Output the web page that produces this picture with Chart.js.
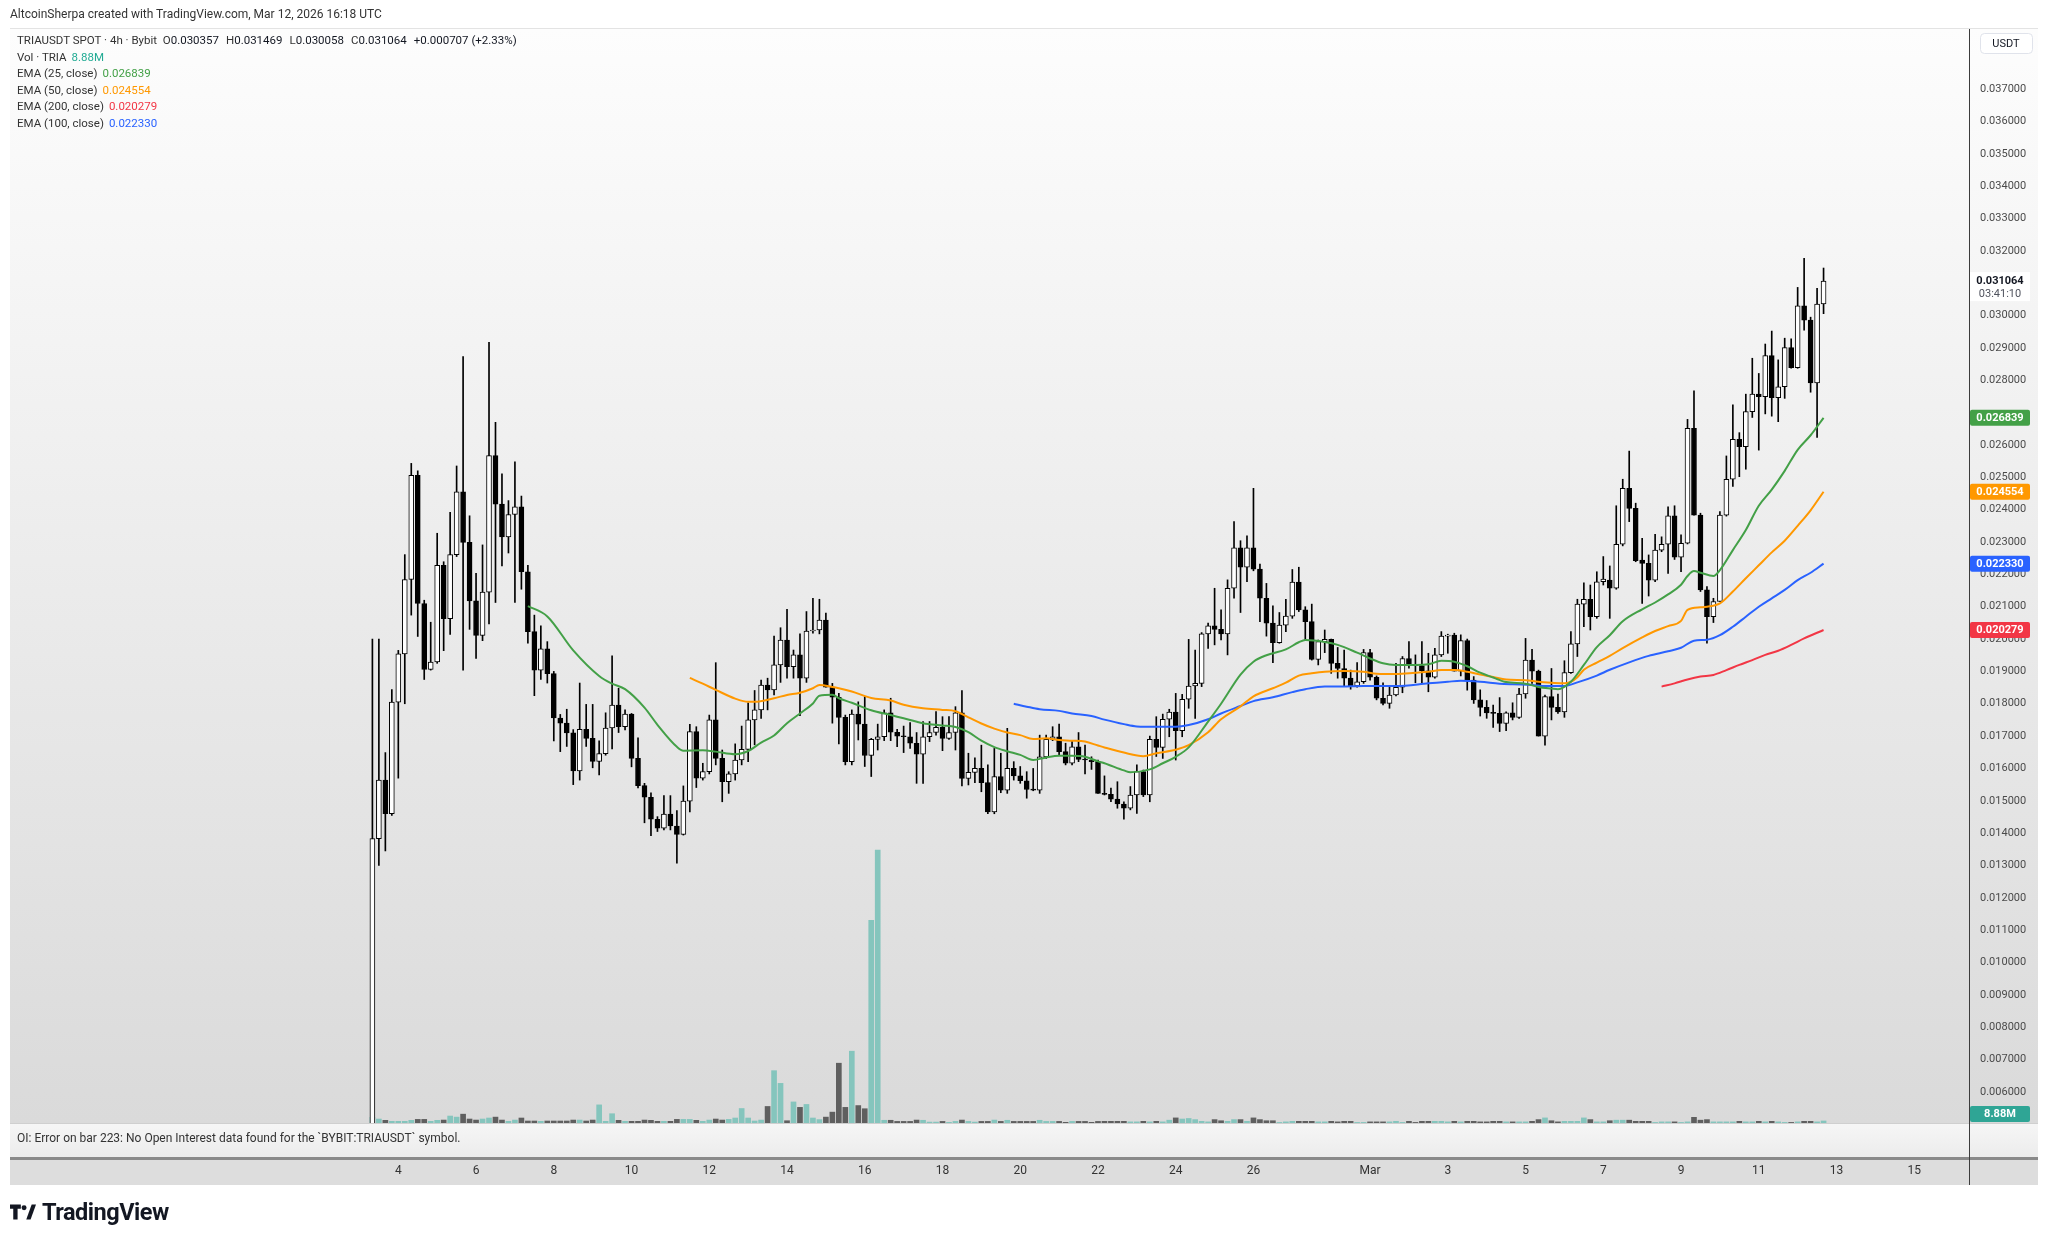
<!DOCTYPE html>
<html>
<head>
<meta charset="utf-8">
<script src="https://cdn.jsdelivr.net/npm/chart.js@4.4.1/dist/chart.umd.min.js"></script>
<style>
  html, body { margin: 0; padding: 0; background: #fff; }
  body { width: 2048px; height: 1244px; position: relative; overflow: hidden; font-family: Roboto, "Liberation Sans", sans-serif; color: #131722; }
  #chart { position: absolute; left: 0; top: 0; }
  #header { position: absolute; left: 10px; top: 7px; font-size: 12px; color: #333; white-space: nowrap; }
  #legend { position: absolute; left: 17px; top: 32px; font-size: 11.5px; line-height: 16.5px; color: #333; white-space: nowrap; }
  #legend .n { color: #131722; margin-right: 7px; }
  #legend .val { margin-left: 5px; }
  #oi { position: absolute; left: 17px; top: 1131px; font-size: 12px; color: #333; white-space: nowrap; }
  #logo { position: absolute; left: 10px; top: 1198px; display: flex; align-items: center; }
  #logo span { font-size: 23.5px; font-weight: 700; letter-spacing: -0.5px; color: #131722; margin-left: 6px; }
</style>
</head>
<body>
<canvas id="chart" width="2048" height="1244"></canvas>
<div id="header">AltcoinSherpa created with TradingView.com, Mar 12, 2026 16:18 UTC</div>
<div id="legend"></div>
<div id="oi">OI: Error on bar 223: No Open Interest data found for the `BYBIT:TRIAUSDT` symbol.</div>
<div id="logo">
  <svg width="26" height="18" viewBox="0 0 24 16"><path d="M0 1h10v4H7v10H3V5H0z" fill="#131722"/><circle cx="13" cy="4" r="2.3" fill="#131722"/><path d="M15 15l5-14h4l-5 14z" fill="#131722"/></svg>
  <span>TradingView</span>
</div>
<script>
// TRIAUSDT 4h candles, Feb 3 08:00 -> Mar 12 16:00 (bar index 0..224)
const opens = [
  0.0035, 0.01383, 0.01564, 0.01460, 0.01805, 0.01954, 0.02184, 0.02506, 0.02110, 0.01906,
  0.01929, 0.02228, 0.02063, 0.02261, 0.02455, 0.02299, 0.02118, 0.02011, 0.02145, 0.02567,
  0.02417, 0.02316, 0.02385, 0.02409, 0.02208, 0.02023, 0.01904, 0.01970, 0.01893, 0.01756,
  0.01740, 0.01710, 0.01592, 0.01721, 0.01693, 0.01622, 0.01646, 0.01725, 0.01796, 0.01729,
  0.01768, 0.01631, 0.01547, 0.01511, 0.01443, 0.01415, 0.01459, 0.01422, 0.01396, 0.01499,
  0.01714, 0.01570, 0.01590, 0.01750, 0.01631, 0.01559, 0.01583, 0.01626, 0.01659, 0.01750,
  0.01781, 0.01858, 0.01843, 0.01920, 0.01997, 0.01915, 0.01951, 0.01879, 0.02025, 0.02028,
  0.02059, 0.01851, 0.01820, 0.01758, 0.01621, 0.01768, 0.01737, 0.01640, 0.01690, 0.01698,
  0.01772, 0.01712, 0.01700, 0.01698, 0.01678, 0.01644, 0.01698, 0.01711, 0.01727, 0.01693,
  0.01711, 0.01772, 0.01569, 0.01588, 0.01600, 0.01556, 0.01466, 0.01575, 0.01533, 0.01600,
  0.01577, 0.01562, 0.01535, 0.01533, 0.01636, 0.01690, 0.01698, 0.01652, 0.01616, 0.01667,
  0.01628, 0.01626, 0.01621, 0.01523, 0.01520, 0.01505, 0.01490, 0.01477, 0.01518, 0.01590,
  0.01518, 0.01690, 0.01665, 0.01752, 0.01774, 0.01717, 0.01814, 0.01855, 0.01863, 0.02016,
  0.02041, 0.02030, 0.02016, 0.02157, 0.02282, 0.02222, 0.02282, 0.02216, 0.02126, 0.02049,
  0.01989, 0.02043, 0.02071, 0.02176, 0.02090, 0.02054, 0.01937, 0.01992, 0.01999, 0.01925,
  0.01909, 0.01879, 0.01855, 0.01868, 0.01958, 0.01882, 0.01817, 0.01801, 0.01827, 0.01851,
  0.01940, 0.01920, 0.01918, 0.01902, 0.01882, 0.01951, 0.02009, 0.02012, 0.01901, 0.01995,
  0.01873, 0.01812, 0.01789, 0.01772, 0.01770, 0.01739, 0.01772, 0.01758, 0.01830, 0.01935,
  0.01901, 0.01700, 0.01822, 0.01789, 0.01775, 0.01896, 0.01985, 0.02108, 0.02123, 0.02069,
  0.02177, 0.02182, 0.02157, 0.02293, 0.02466, 0.02404, 0.02244, 0.02234, 0.02182, 0.02275,
  0.02293, 0.02381, 0.02253, 0.02296, 0.02651, 0.02383, 0.02152, 0.02069, 0.02116, 0.02383,
  0.02494, 0.02617, 0.02595, 0.02703, 0.02757, 0.02749, 0.02876, 0.02746, 0.02780, 0.02901,
  0.02839, 0.03030, 0.02986, 0.02792, 0.030357
];
const highs = [
  0.0200, 0.0200, 0.01649, 0.01844, 0.01965, 0.02261, 0.02543, 0.02520, 0.02120, 0.02052,
  0.02327, 0.02239, 0.02392, 0.02535, 0.02873, 0.02381, 0.02203, 0.02291, 0.02917, 0.02670,
  0.02511, 0.02428, 0.02548, 0.02442, 0.02228, 0.02074, 0.02041, 0.01992, 0.01900, 0.01767,
  0.01783, 0.01720, 0.01864, 0.01798, 0.01798, 0.01685, 0.01772, 0.01948, 0.01848, 0.01781,
  0.01770, 0.01695, 0.01554, 0.01525, 0.01451, 0.01516, 0.01516, 0.01470, 0.01546, 0.01736,
  0.01729, 0.01616, 0.01765, 0.01927, 0.01657, 0.01590, 0.01676, 0.01731, 0.01803, 0.01841,
  0.01873, 0.01879, 0.02009, 0.02035, 0.02092, 0.01966, 0.02016, 0.02085, 0.02126, 0.02123,
  0.02080, 0.01863, 0.01832, 0.01765, 0.01781, 0.01806, 0.01822, 0.01693, 0.01737, 0.01781,
  0.01817, 0.01721, 0.01731, 0.01742, 0.01711, 0.01745, 0.01745, 0.01776, 0.01760, 0.01760,
  0.01791, 0.01841, 0.01647, 0.01633, 0.01672, 0.01611, 0.01662, 0.01647, 0.01724, 0.01621,
  0.01606, 0.01590, 0.01600, 0.01703, 0.01703, 0.01729, 0.01737, 0.01678, 0.01686, 0.01711,
  0.01672, 0.01636, 0.01626, 0.01577, 0.01539, 0.01559, 0.01497, 0.01544, 0.01611, 0.01595,
  0.01700, 0.01760, 0.01768, 0.01783, 0.01832, 0.01829, 0.01999, 0.01966, 0.02020, 0.02049,
  0.02157, 0.02090, 0.02183, 0.02363, 0.02304, 0.02319, 0.02466, 0.02232, 0.02172, 0.02103,
  0.02082, 0.02123, 0.02215, 0.02222, 0.02100, 0.02108, 0.01997, 0.02028, 0.02000, 0.01974,
  0.01966, 0.01904, 0.01927, 0.01968, 0.01968, 0.01886, 0.01865, 0.01855, 0.01925, 0.01946,
  0.01992, 0.01951, 0.01992, 0.01956, 0.01971, 0.02023, 0.02015, 0.02018, 0.02013, 0.02000,
  0.01884, 0.01843, 0.01810, 0.01796, 0.01819, 0.01775, 0.01803, 0.01848, 0.02002, 0.01968,
  0.01904, 0.01827, 0.01909, 0.01830, 0.01933, 0.02023, 0.02123, 0.02174, 0.02167, 0.02208,
  0.02255, 0.02226, 0.02412, 0.02494, 0.02581, 0.02420, 0.02311, 0.02260, 0.02324, 0.02316,
  0.02409, 0.02412, 0.02322, 0.02679, 0.02767, 0.02389, 0.02162, 0.02126, 0.02394, 0.02566,
  0.02724, 0.02638, 0.02757, 0.02868, 0.02821, 0.02912, 0.02952, 0.02863, 0.02930, 0.02928,
  0.03087, 0.03177, 0.02995, 0.03084, 0.031469
];
const lows = [
  0.0030, 0.0130, 0.01345, 0.01455, 0.01570, 0.01800, 0.02074, 0.02008, 0.01875, 0.01904,
  0.01925, 0.01964, 0.02014, 0.02255, 0.01904, 0.02030, 0.01940, 0.01995, 0.02047, 0.02113,
  0.02226, 0.02266, 0.02113, 0.02154, 0.01987, 0.01825, 0.01875, 0.01864, 0.01685, 0.01652,
  0.01668, 0.01550, 0.01564, 0.01668, 0.01602, 0.01580, 0.01641, 0.01660, 0.01711, 0.01719,
  0.01605, 0.01540, 0.01432, 0.01392, 0.01405, 0.01410, 0.01410, 0.01307, 0.01394, 0.01466,
  0.01541, 0.01564, 0.01583, 0.01611, 0.01497, 0.01523, 0.01564, 0.01611, 0.01621, 0.01673,
  0.01755, 0.01781, 0.01827, 0.01866, 0.01879, 0.01879, 0.01763, 0.01866, 0.02018, 0.02016,
  0.01851, 0.01740, 0.01676, 0.01611, 0.01611, 0.01688, 0.01606, 0.01575, 0.01657, 0.01686,
  0.01686, 0.01667, 0.01649, 0.01662, 0.01554, 0.01554, 0.01683, 0.01703, 0.01655, 0.01690,
  0.01657, 0.01546, 0.01549, 0.01556, 0.01528, 0.01460, 0.01460, 0.01525, 0.01523, 0.01564,
  0.01554, 0.01508, 0.01531, 0.01523, 0.01631, 0.01686, 0.01642, 0.01611, 0.01611, 0.01621,
  0.01583, 0.01597, 0.01523, 0.01518, 0.01497, 0.01477, 0.01443, 0.01472, 0.01461, 0.01513,
  0.01497, 0.01637, 0.01631, 0.01698, 0.01626, 0.01698, 0.01786, 0.01755, 0.01853, 0.01971,
  0.01982, 0.01997, 0.01951, 0.02126, 0.02082, 0.02177, 0.02211, 0.02054, 0.02009, 0.01927,
  0.01987, 0.02023, 0.02064, 0.02085, 0.01997, 0.01935, 0.01920, 0.01958, 0.01894, 0.01879,
  0.01855, 0.01845, 0.01851, 0.01863, 0.01873, 0.01812, 0.01796, 0.01786, 0.01824, 0.01834,
  0.01910, 0.01865, 0.01863, 0.01837, 0.01879, 0.01946, 0.01956, 0.01901, 0.01886, 0.01842,
  0.01801, 0.01762, 0.01755, 0.01727, 0.01714, 0.01717, 0.01750, 0.01755, 0.01817, 0.01863,
  0.01700, 0.01672, 0.01750, 0.01770, 0.01758, 0.01894, 0.01946, 0.02038, 0.02028, 0.02064,
  0.02167, 0.02064, 0.02154, 0.02288, 0.02363, 0.02239, 0.02110, 0.02133, 0.02177, 0.02270,
  0.02203, 0.02246, 0.02208, 0.02294, 0.02383, 0.02147, 0.01987, 0.02051, 0.02116, 0.02380,
  0.02472, 0.02502, 0.02525, 0.02685, 0.02584, 0.02696, 0.02689, 0.02672, 0.02744, 0.02837,
  0.02837, 0.02955, 0.02763, 0.02623, 0.030058
];
const closes = [
  0.01383, 0.01564, 0.01460, 0.01805, 0.01954, 0.02184, 0.02506, 0.02110, 0.01906, 0.01929,
  0.02228, 0.02063, 0.02261, 0.02455, 0.02299, 0.02118, 0.02011, 0.02145, 0.02567, 0.02417,
  0.02316, 0.02385, 0.02409, 0.02208, 0.02023, 0.01904, 0.01970, 0.01893, 0.01756, 0.01740,
  0.01710, 0.01592, 0.01721, 0.01693, 0.01622, 0.01646, 0.01725, 0.01796, 0.01729, 0.01768,
  0.01631, 0.01547, 0.01511, 0.01443, 0.01415, 0.01459, 0.01422, 0.01396, 0.01499, 0.01714,
  0.01570, 0.01590, 0.01750, 0.01631, 0.01559, 0.01583, 0.01626, 0.01659, 0.01750, 0.01781,
  0.01858, 0.01843, 0.01920, 0.01997, 0.01915, 0.01951, 0.01879, 0.02025, 0.02028, 0.02059,
  0.01851, 0.01820, 0.01758, 0.01621, 0.01768, 0.01737, 0.01640, 0.01690, 0.01698, 0.01772,
  0.01712, 0.01700, 0.01698, 0.01678, 0.01644, 0.01698, 0.01711, 0.01727, 0.01693, 0.01711,
  0.01772, 0.01569, 0.01588, 0.01600, 0.01556, 0.01466, 0.01575, 0.01533, 0.01600, 0.01577,
  0.01562, 0.01535, 0.01533, 0.01636, 0.01690, 0.01698, 0.01652, 0.01616, 0.01667, 0.01628,
  0.01626, 0.01621, 0.01523, 0.01520, 0.01505, 0.01490, 0.01477, 0.01518, 0.01590, 0.01518,
  0.01690, 0.01665, 0.01752, 0.01774, 0.01717, 0.01814, 0.01855, 0.01863, 0.02016, 0.02041,
  0.02030, 0.02016, 0.02157, 0.02282, 0.02222, 0.02282, 0.02216, 0.02126, 0.02049, 0.01989,
  0.02043, 0.02071, 0.02176, 0.02090, 0.02054, 0.01937, 0.01992, 0.01999, 0.01925, 0.01909,
  0.01879, 0.01855, 0.01868, 0.01958, 0.01882, 0.01817, 0.01801, 0.01827, 0.01851, 0.01940,
  0.01920, 0.01918, 0.01902, 0.01882, 0.01951, 0.02009, 0.02012, 0.01901, 0.01995, 0.01873,
  0.01812, 0.01789, 0.01772, 0.01770, 0.01739, 0.01772, 0.01758, 0.01830, 0.01935, 0.01901,
  0.01700, 0.01822, 0.01789, 0.01775, 0.01896, 0.01985, 0.02108, 0.02123, 0.02069, 0.02177,
  0.02185, 0.02157, 0.02293, 0.02466, 0.02404, 0.02242, 0.02234, 0.02182, 0.02275, 0.02293,
  0.02381, 0.02253, 0.02296, 0.02651, 0.02383, 0.02152, 0.02069, 0.02116, 0.02383, 0.02494,
  0.02617, 0.02595, 0.02703, 0.02757, 0.02749, 0.02876, 0.02746, 0.02780, 0.02901, 0.02839,
  0.03030, 0.02986, 0.02792, 0.030357, 0.031064
];
// volume in millions of TRIA
const volumes = [
  25, 17.5, 11.7, 7.3, 7.3, 7.3, 11.7, 16, 16, 7.3,
  11.7, 13, 30.7, 26, 39, 17.5, 13, 17.5, 22, 26,
  13, 7.3, 13, 22, 8.8, 8.8, 7.3, 8.8, 8.8, 8.8,
  8.8, 13, 13, 8.8, 13, 80, 7.3, 41, 11.7, 7.3,
  7.3, 7.3, 13, 11.7, 7.3, 7.3, 7.3, 16, 16, 16,
  11.7, 7.3, 13, 17.5, 13, 16, 22, 64, 22, 8.8,
  13, 73, 231, 175, 10, 93, 69, 82, 22, 15,
  26, 48, 264, 69, 317, 77, 63, 895, 1205, 12,
  12, 7, 7, 7, 13, 12, 4, 4, 7, 3,
  7, 13, 7, 4, 7, 7, 13, 7, 12, 7,
  7, 7, 7, 12, 7, 7, 7, 3, 7, 7,
  7, 3, 7, 7.5, 7.5, 7.5, 7.5, 5, 5, 7.5,
  5, 7.5, 5, 12.5, 22.5, 17.5, 20, 15, 7.5, 5,
  15, 10, 7.5, 15, 15, 7.5, 22.5, 15, 10, 10,
  2.5, 5, 7.5, 7.5, 7.5, 7.5, 5, 5, 7.5, 5,
  7.5, 7.5, 2.5, 2.5, 5, 5, 5, 5, 7.5, 2.5,
  7.5, 2.5, 7.5, 7.5, 7.5, 7.5, 5, 7.5, 5, 7.5,
  7.5, 5, 5, 7.5, 7.5, 5, 5, 5, 5, 7.5,
  15, 22.5, 10, 5, 7.5, 7.5, 7.5, 22.5, 15, 5,
  5, 10, 12.5, 12.5, 12.5, 7.5, 7.5, 7.5, 2.5, 5,
  5, 5, 2.5, 5, 25, 12.5, 15, 5, 5, 5,
  5, 7.5, 5, 5, 7.5, 5, 7.5, 5, 2.5, 2.5,
  5, 7.5, 7.5, 5, 8.88
];

// EMA lines: bar index + value
const ema25Idx = [24, 27, 31, 35, 37, 39, 42, 44, 47, 48, 51, 53, 56, 58, 60, 62, 64, 66, 68, 69, 71, 72, 74, 77, 80, 82, 85, 88, 90, 92, 94, 96, 98, 100, 102, 104, 106, 108, 110, 112, 113, 116, 117, 120, 122, 124, 126, 129, 131, 134, 136, 138, 141, 143, 144, 147, 149, 152, 154, 156, 158, 161, 163, 165, 167, 169, 171, 173, 175, 178, 180, 182, 183, 185, 187, 189, 191, 193, 196, 198, 200, 202, 203, 204, 205, 207, 208, 210, 212, 214, 216, 218, 220, 222, 224];
const ema25Val = [0.02102, 0.02070, 0.01965, 0.01886, 0.01862, 0.01845, 0.01788, 0.01735, 0.01667, 0.01655, 0.01656, 0.01652, 0.01644, 0.01654, 0.01680, 0.01702, 0.01740, 0.01770, 0.01801, 0.01825, 0.01828, 0.01817, 0.01803, 0.01780, 0.01765, 0.01755, 0.01740, 0.01733, 0.01728, 0.01712, 0.01686, 0.01666, 0.01653, 0.01642, 0.01626, 0.01634, 0.01639, 0.01639, 0.01636, 0.01622, 0.01616, 0.01594, 0.01588, 0.01597, 0.01616, 0.01636, 0.01665, 0.01745, 0.01800, 0.01890, 0.01930, 0.01950, 0.01968, 0.01990, 0.01997, 0.01991, 0.01982, 0.01958, 0.01940, 0.01925, 0.01920, 0.01920, 0.01922, 0.01933, 0.01930, 0.01916, 0.01896, 0.01881, 0.01867, 0.01862, 0.01852, 0.01847, 0.01845, 0.01868, 0.01920, 0.01975, 0.02012, 0.02055, 0.02092, 0.02113, 0.02138, 0.02168, 0.02195, 0.02210, 0.02205, 0.02195, 0.02213, 0.02275, 0.02337, 0.02412, 0.02462, 0.02520, 0.02585, 0.02630, 0.026839];
const ema50Idx = [49, 51, 53, 56, 58, 59, 62, 64, 66, 68, 69, 71, 72, 74, 77, 80, 82, 85, 88, 90, 92, 94, 96, 98, 100, 102, 104, 106, 108, 110, 112, 113, 116, 119, 121, 124, 126, 129, 131, 134, 136, 139, 141, 143, 145, 147, 150, 153, 155, 158, 161, 163, 165, 167, 169, 171, 173, 175, 178, 180, 182, 184, 185, 186, 187, 189, 191, 193, 196, 198, 200, 202, 203, 205, 206, 208, 210, 212, 214, 216, 218, 220, 222, 224];
const ema50Val = [0.01880, 0.01862, 0.01843, 0.01816, 0.01806, 0.01806, 0.01817, 0.01827, 0.01834, 0.01848, 0.01858, 0.01852, 0.01848, 0.01838, 0.01818, 0.01810, 0.01797, 0.01786, 0.01781, 0.01777, 0.01758, 0.01739, 0.01723, 0.01711, 0.01703, 0.01691, 0.01693, 0.01688, 0.01686, 0.01683, 0.01671, 0.01665, 0.01649, 0.01638, 0.01647, 0.01658, 0.01672, 0.01712, 0.01752, 0.01792, 0.01823, 0.01848, 0.01865, 0.01887, 0.01894, 0.01899, 0.01901, 0.01899, 0.01893, 0.01892, 0.01896, 0.01899, 0.01904, 0.01904, 0.01899, 0.01890, 0.01883, 0.01875, 0.01873, 0.01868, 0.01865, 0.01863, 0.01868, 0.01882, 0.01905, 0.01927, 0.01948, 0.01972, 0.02005, 0.02025, 0.02040, 0.02056, 0.02090, 0.02098, 0.02100, 0.02110, 0.02147, 0.02188, 0.02228, 0.02268, 0.02304, 0.02350, 0.02398, 0.024554];
const ema100Idx = [99, 101, 103, 106, 108, 111, 113, 116, 118, 121, 124, 126, 129, 131, 134, 136, 139, 142, 144, 147, 149, 153, 158, 163, 166, 168, 171, 174, 176, 179, 181, 184, 186, 189, 191, 194, 197, 200, 202, 204, 206, 208, 210, 212, 214, 216, 218, 220, 222, 224];
const ema100Val = [0.01800, 0.01791, 0.01783, 0.01778, 0.01770, 0.01762, 0.01751, 0.01737, 0.01730, 0.01729, 0.01729, 0.01734, 0.01752, 0.01770, 0.01793, 0.01808, 0.01820, 0.01836, 0.01845, 0.01853, 0.01853, 0.01855, 0.01855, 0.01863, 0.01868, 0.01871, 0.01868, 0.01862, 0.01860, 0.01858, 0.01855, 0.01855, 0.01866, 0.01887, 0.01905, 0.01928, 0.01948, 0.01962, 0.01973, 0.01995, 0.01998, 0.02012, 0.02038, 0.02069, 0.02100, 0.02126, 0.02152, 0.02182, 0.02205, 0.02233];
const ema200Idx = [199, 201, 203, 205, 207, 209, 211, 213, 215, 217, 219, 221, 224];
const ema200Val = [0.01853, 0.01863, 0.01875, 0.01884, 0.01889, 0.01904, 0.01920, 0.01935, 0.01951, 0.01964, 0.01982, 0.02002, 0.020279];

// axis ticks: bar index of each day label (Feb 4 00:00 = bar 4, 6 bars per day)
const dayTickIdx = [4, 16, 28, 40, 52, 64, 76, 88, 100, 112, 124, 136, 154, 166, 178, 190, 202, 214, 226, 238];
const dayTickLabels = ['4', '6', '8', '10', '12', '14', '16', '18', '20', '22', '24', '26', 'Mar', '3', '5', '7', '9', '11', '13', '15'];
const priceTicks = [0.006, 0.007, 0.008, 0.009, 0.010, 0.011, 0.012, 0.013, 0.014, 0.015, 0.016, 0.017, 0.018, 0.019, 0.020, 0.021, 0.022, 0.023, 0.024, 0.025, 0.026, 0.027, 0.028, 0.029, 0.030, 0.031, 0.032, 0.033, 0.034, 0.035, 0.036, 0.037];

const emaColors = { e25: '#43a047', e50: '#ff9800', e100: '#2962ff', e200: '#f23645' };
const volUp = '#85c5bd';
const volDown = '#5f5f5f';

const last = closes.length - 1;
const isUp = i => closes[i] >= opens[i];
const pts = (idx, vals) => idx.map((x, k) => ({ x: x, y: vals[k] }));
const fmt = v => v.toFixed(6);
const lastOf = a => a[a.length - 1];

// price labels sitting under a value badge are hidden, as on TradingView
const badgeValues = [closes[last], lastOf(ema25Val), lastOf(ema50Val), lastOf(ema100Val), lastOf(ema200Val)];
const hiddenTick = v => badgeValues.some(b => Math.abs(b - v) < 0.0002);

// legend text
const chg = closes[last] - closes[last - 1];
document.getElementById('legend').innerHTML =
  '<div>TRIAUSDT SPOT · 4h · Bybit&nbsp;&nbsp;O<span class="n">' + fmt(opens[last]) +
  '</span>H<span class="n">' + fmt(highs[last]) + '</span>L<span class="n">' + fmt(lows[last]) +
  '</span>C<span class="n">' + fmt(closes[last]) + '</span><span class="n">+' + fmt(chg) +
  ' (+' + (chg / closes[last - 1] * 100).toFixed(2) + '%)</span></div>' +
  '<div>Vol · TRIA<span class="val" style="color:#22ab94">' + volumes[last].toFixed(2) + 'M</span></div>' +
  '<div>EMA (25, close)<span class="val" style="color:' + emaColors.e25 + '">' + fmt(lastOf(ema25Val)) + '</span></div>' +
  '<div>EMA (50, close)<span class="val" style="color:' + emaColors.e50 + '">' + fmt(lastOf(ema50Val)) + '</span></div>' +
  '<div>EMA (200, close)<span class="val" style="color:' + emaColors.e200 + '">' + fmt(lastOf(ema200Val)) + '</span></div>' +
  '<div>EMA (100, close)<span class="val" style="color:' + emaColors.e100 + '">' + fmt(lastOf(ema100Val)) + '</span></div>';

function badge(c, y, bg, fg, text) {
  c.fillStyle = bg;
  c.beginPath();
  c.roundRect(1970, y - 8, 60, 16, 2);
  c.fill();
  c.fillStyle = fg;
  c.font = 'bold 11px Roboto';
  c.textAlign = 'center';
  c.textBaseline = 'middle';
  c.fillText(text, 2000, y + 0.5);
}

const paneBg = {
  id: 'paneBg',
  beforeDraw(chart) {
    const c = chart.ctx;
    c.save();
    c.fillStyle = '#ffffff';
    c.fillRect(0, 0, 2048, 1244);
    const g = c.createLinearGradient(0, 29, 0, 1123);
    g.addColorStop(0, '#fdfdfd');
    g.addColorStop(1, '#dadada');
    c.fillStyle = g;
    c.fillRect(10, 29, 2028, 1094);
    c.fillStyle = '#e3e3e3';
    c.fillRect(10, 28, 2028, 1);
    // OI pane
    const g2 = c.createLinearGradient(0, 1123, 0, 1157);
    g2.addColorStop(0, '#f6f6f6');
    g2.addColorStop(1, '#ececec');
    c.fillStyle = g2;
    c.fillRect(10, 1123, 2028, 34);
    c.fillStyle = '#cfcfcf';
    c.fillRect(10, 1123, 2028, 1);
    c.fillStyle = '#8a8a8a';
    c.fillRect(10, 1157, 2028, 3);
    // time axis strip
    c.fillStyle = '#dddddd';
    c.fillRect(10, 1160, 2028, 25);
    // price axis divider
    c.fillStyle = '#3c3c3c';
    c.fillRect(1969, 29, 1, 1156);
    c.restore();
  },
  afterDraw(chart) {
    const c = chart.ctx;
    const y = chart.scales.y;
    c.save();
    // USDT button
    c.fillStyle = '#ffffff';
    c.strokeStyle = '#e0e3eb';
    c.beginPath();
    c.roundRect(1980.5, 33.5, 52, 20, 4);
    c.fill();
    c.stroke();
    c.fillStyle = '#131722';
    c.font = '11px Roboto';
    c.textAlign = 'center';
    c.textBaseline = 'middle';
    c.fillText('USDT', 2006, 44);
    // last price with countdown
    const py = y.getPixelForValue(closes[last]);
    c.fillStyle = '#ffffff';
    c.fillRect(1970, py - 9, 60, 29);
    c.fillStyle = '#131722';
    c.font = 'bold 11px Roboto';
    c.fillText(fmt(closes[last]), 2000, py + 0.5);
    c.fillStyle = '#50535e';
    c.font = '11px Roboto';
    c.fillText('03:41:10', 2000, py + 13);
    // EMA badges
    badge(c, y.getPixelForValue(lastOf(ema25Val)), emaColors.e25, '#fff', fmt(lastOf(ema25Val)));
    badge(c, y.getPixelForValue(lastOf(ema50Val)), emaColors.e50, '#fff', fmt(lastOf(ema50Val)));
    badge(c, y.getPixelForValue(lastOf(ema100Val)), emaColors.e100, '#fff', fmt(lastOf(ema100Val)));
    badge(c, y.getPixelForValue(lastOf(ema200Val)), emaColors.e200, '#fff', fmt(lastOf(ema200Val)));
    // volume badge
    badge(c, 1114, '#2fa595', '#fff', volumes[last].toFixed(2) + 'M');
    c.restore();
  }
};

const ctx = document.getElementById('chart');

new Chart(ctx, {
  type: 'bar',
  data: {
    datasets: [
      { type: 'line', label: 'EMA 25', data: pts(ema25Idx, ema25Val), borderColor: emaColors.e25, borderWidth: 2, pointRadius: 0, cubicInterpolationMode: 'monotone', yAxisID: 'y', order: 0 },
      { type: 'line', label: 'EMA 50', data: pts(ema50Idx, ema50Val), borderColor: emaColors.e50, borderWidth: 2, pointRadius: 0, cubicInterpolationMode: 'monotone', yAxisID: 'y', order: 0 },
      { type: 'line', label: 'EMA 200', data: pts(ema200Idx, ema200Val), borderColor: emaColors.e200, borderWidth: 2, pointRadius: 0, cubicInterpolationMode: 'monotone', yAxisID: 'y', order: 0 },
      { type: 'line', label: 'EMA 100', data: pts(ema100Idx, ema100Val), borderColor: emaColors.e100, borderWidth: 2, pointRadius: 0, cubicInterpolationMode: 'monotone', yAxisID: 'y', order: 0 },
      {
        label: 'body',
        data: opens.map((o, i) => ({ x: i, y: [o, closes[i]] })),
        backgroundColor: c => isUp(c.dataIndex) ? '#ffffff' : '#000000',
        borderColor: '#000000',
        borderWidth: 1,
        borderSkipped: false,
        barThickness: 5,
        minBarLength: 1,
        grouped: false,
        yAxisID: 'y',
        order: 1
      },
      {
        label: 'wick',
        data: lows.map((l, i) => ({ x: i, y: [l, highs[i]] })),
        backgroundColor: '#000000',
        barThickness: 1,
        grouped: false,
        yAxisID: 'y',
        order: 2
      },
      {
        label: 'volume',
        data: volumes.map((v, i) => ({ x: i, y: v })),
        backgroundColor: c => isUp(c.dataIndex) ? volUp : volDown,
        barThickness: 5,
        grouped: false,
        yAxisID: 'yv',
        order: 3
      }
    ]
  },
  options: {
    responsive: false,
    animation: false,
    layout: { padding: { left: 10, top: 29, right: 9, bottom: 59 } },
    plugins: { legend: { display: false }, tooltip: { enabled: false } },
    scales: {
      x: {
        type: 'linear',
        min: -55.94,
        max: 246.45,
        offset: false,
        grid: { display: false, drawTicks: false },
        border: { display: false },
        afterBuildTicks: s => { s.ticks = dayTickIdx.map(v => ({ value: v })); },
        afterFit: s => { s.height = 62; },
        ticks: {
          autoSkip: false,
          maxRotation: 0,
          padding: 41,
          color: '#333333',
          font: { family: 'Roboto', size: 12 },
          callback: (v, k) => dayTickLabels[k]
        }
      },
      y: {
        position: 'right',
        min: 0.00504,
        max: 0.038858,
        grid: { display: false, drawTicks: false },
        border: { display: false },
        afterBuildTicks: s => { s.ticks = priceTicks.map(v => ({ value: v })); },
        afterFit: s => { s.width = 70; },
        ticks: {
          padding: 11,
          color: '#4a4a4a',
          font: { family: 'Roboto', size: 11 },
          callback: v => hiddenTick(v) ? '' : v.toFixed(6)
        }
      },
      yv: { display: false, min: 0, max: 4830 }
    }
  },
  plugins: [paneBg]
});
</script>
</body>
</html>
